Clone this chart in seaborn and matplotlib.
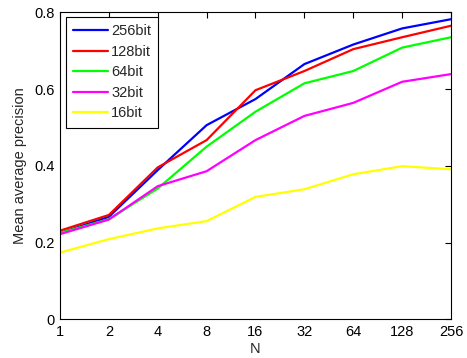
import numpy as np
import pandas as pd
import matplotlib
matplotlib.use("Agg")
import matplotlib.pyplot as plt
import seaborn as sns

N = [1, 2, 4, 8, 16, 32, 64, 128, 256]
tick_labels = ["1", "2", "4", "8", "16", "32", "64", "128", "256"]
series_names = ["256bit", "128bit", "64bit", "32bit", "16bit"]
map_256 = [0.225, 0.267, 0.389, 0.506, 0.574, 0.665, 0.716, 0.758, 0.782]
map_128 = [0.231, 0.272, 0.396, 0.467, 0.597, 0.647, 0.704, 0.735, 0.765]
map_64 = [0.225, 0.261, 0.341, 0.450, 0.541, 0.615, 0.647, 0.708, 0.735]
map_32 = [0.222, 0.260, 0.347, 0.386, 0.467, 0.530, 0.564, 0.619, 0.639]
map_16 = [0.174, 0.209, 0.237, 0.256, 0.319, 0.339, 0.378, 0.399, 0.391]
colors = ["#0000ff", "#ff0000", "#00ff00", "#ff00ff", "#ffff00"]

values = [map_256, map_128, map_64, map_32, map_16]
df = pd.DataFrame({
    "N": N * len(series_names),
    "map": sum(values, []),
    "bits": sum([[s] * len(N) for s in series_names], []),
})

sns.set_style("white")
plt.rcParams["font.family"] = ["Liberation Sans", "DejaVu Sans"]

fig = plt.figure(figsize=(4.67, 3.58), dpi=100)
ax = fig.add_axes([0.1285, 0.108, 0.8372, 0.8576])
sns.lineplot(data=df, x="N", y="map", hue="bits", hue_order=series_names,
             palette=colors, linewidth=1.6, ax=ax, legend=True)
ax.set_xscale("log", base=2)
ax.set_xlim(1, 256)
ax.set_ylim(0, 0.8)
ax.set_xticks(N)
ax.set_xticklabels(tick_labels)
ax.minorticks_off()
ax.set_yticks([0, 0.2, 0.4, 0.6, 0.8])
ax.set_yticklabels(["0", "0.2", "0.4", "0.6", "0.8"])
ax.tick_params(direction="in", length=4, width=0.8, top=True, right=True,
               labelsize=10.5, colors="black", pad=4)
for s in ax.spines.values():
    s.set_color("black")
    s.set_linewidth(0.8)
ax.set_xlabel("N", fontsize=10.5, labelpad=2)
ax.set_ylabel("Mean average precision", fontsize=10.5, labelpad=5)
leg = ax.legend(loc="upper left", bbox_to_anchor=(0.0153, 0.985), borderaxespad=0,
                fontsize=10.5, frameon=True, fancybox=False, edgecolor="black",
                framealpha=1, handlelength=2.35, borderpad=0.5, labelspacing=0.45,
                handletextpad=0.25)
leg.get_frame().set_linewidth(0.8)
for line in leg.get_lines():
    line.set_linewidth(1.6)
fig.savefig("out.png", dpi=100)
